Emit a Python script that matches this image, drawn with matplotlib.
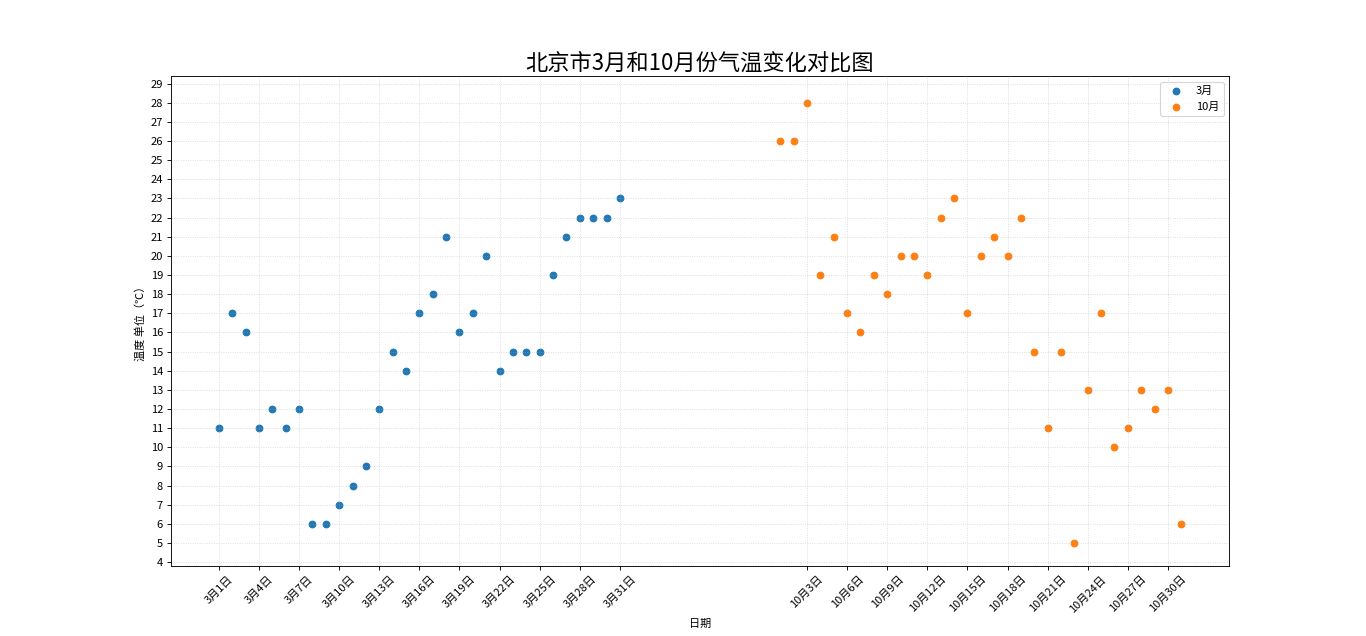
import numpy as np
import matplotlib
matplotlib.use("Agg")
import matplotlib.pyplot as plt

plt.rcParams['font.family'] = ['Noto Sans CJK SC', 'DejaVu Sans']
plt.rcParams['axes.unicode_minus'] = False

# data
march_days = list(range(1, 32))
march_temps = [11, 17, 16, 11, 12, 11, 12, 6, 6, 7, 8, 9, 12, 15, 14, 17,
               18, 21, 16, 17, 20, 14, 15, 15, 15, 19, 21, 22, 22, 22, 23]
oct_days = list(range(1, 32))
oct_temps = [26, 26, 28, 19, 21, 17, 16, 19, 18, 20, 20, 19, 22, 23, 17, 20,
             21, 20, 22, 15, 11, 15, 5, 13, 17, 10, 11, 13, 12, 13, 6]
oct_offset = 42

x_march = np.array(march_days)
x_oct = np.array(oct_days) + oct_offset

fig = plt.figure(figsize=(1366 / 80, 636 / 80), dpi=80)
ax = fig.add_subplot(111)

ax.scatter(x_march, march_temps, label='3月')
ax.scatter(x_oct, oct_temps, label='10月')

# tick labels every 3 days
tick_pos = list(x_march[::3]) + list(x_oct[2::3])
tick_lab = [f'3月{d}日' for d in march_days[::3]] + [f'10月{d}日' for d in oct_days[2::3]]
ax.set_xticks(tick_pos)
ax.set_xticklabels(tick_lab, rotation=45)
ax.set_yticks(range(4, 30))
ax.set_ylim(3.8, 29.38)

ax.set_xlabel('日期')
ax.set_ylabel('温度 单位（℃）')
ax.set_title('北京市3月和10月份气温变化对比图', fontsize=20)

ax.grid(True, linestyle=':', alpha=0.5)
ax.legend(loc='upper right')

plt.subplots_adjust(left=0.125, right=0.9, top=0.88, bottom=0.11)
plt.savefig('out.png', dpi=80)
plt.close()
